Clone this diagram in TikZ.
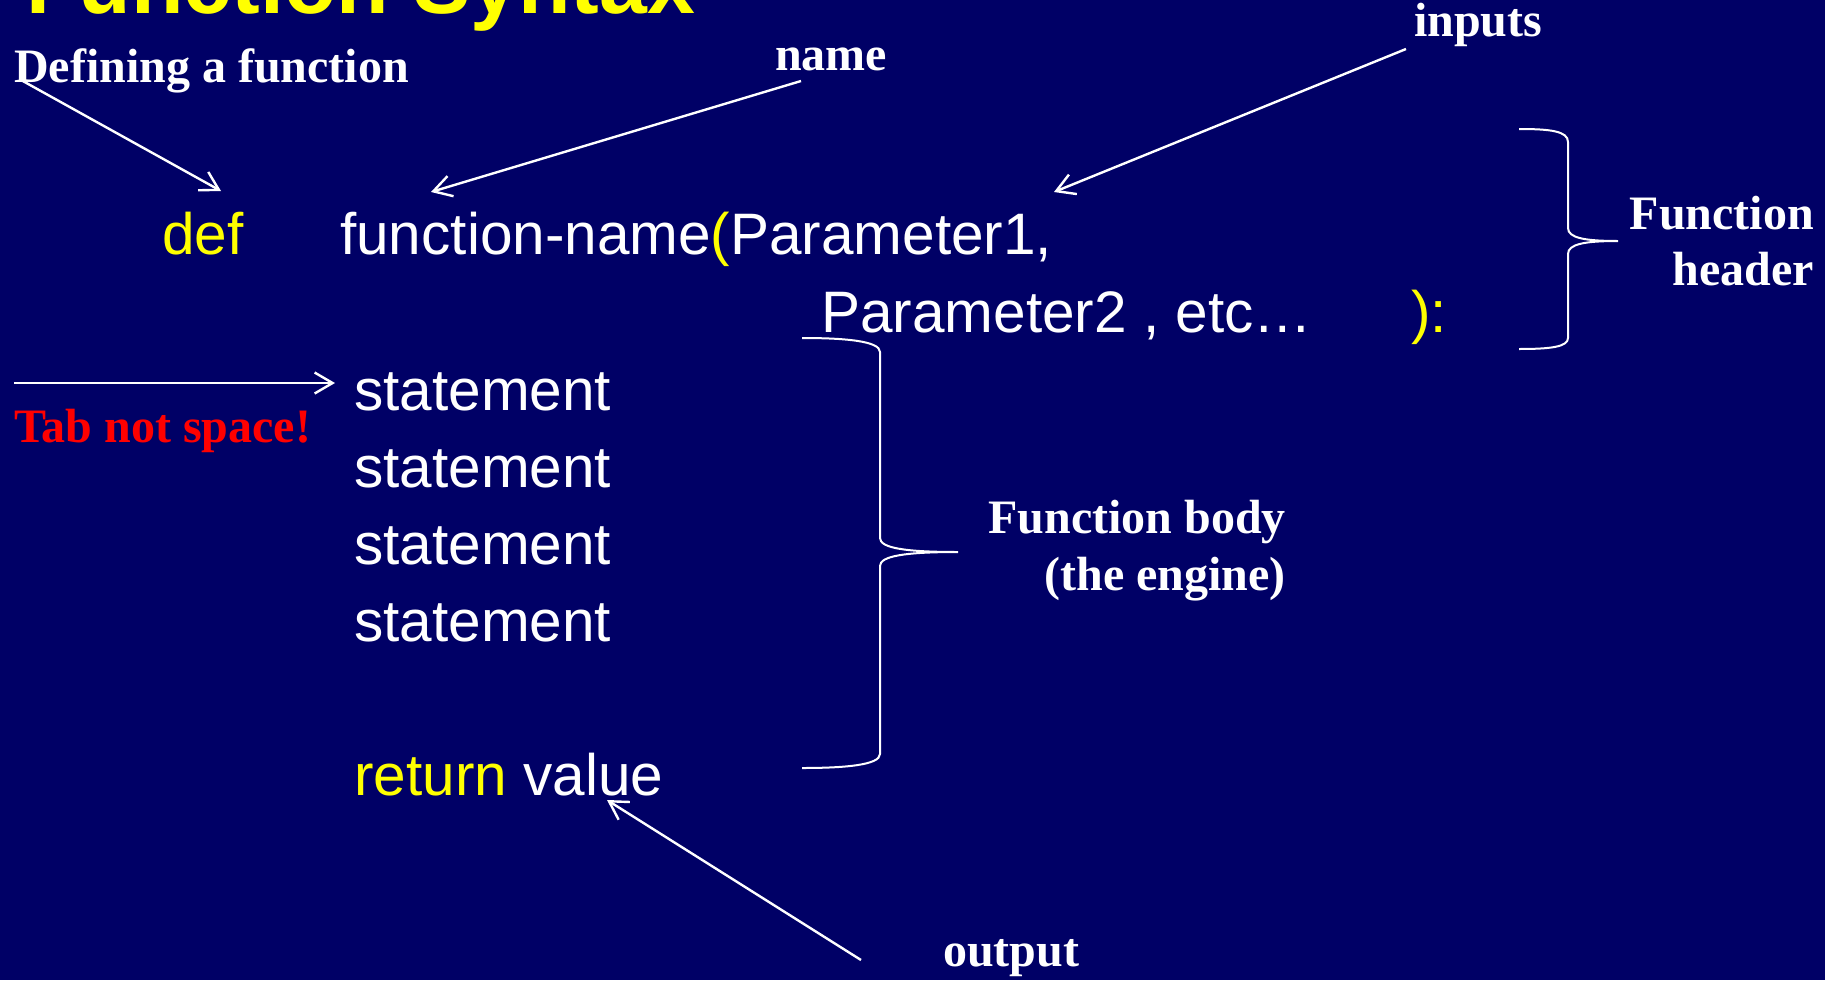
\documentclass[tikz,border=0pt]{standalone}
\usepackage{fontspec}
\setmainfont{Liberation Serif}
\setsansfont{Liberation Sans}
\usetikzlibrary{arrows.meta}
\definecolor{slidebg}{RGB}{0,0,102}
\definecolor{kwyellow}{RGB}{255,255,0}
\definecolor{warnred}{RGB}{255,0,0}

\begin{document}
\begin{tikzpicture}[x=1pt,y=-1pt,
  code/.style={font=\sffamily\fontsize{58.5}{70}\selectfont, text=white, inner sep=0pt, anchor=base west},
  kw/.style={code, text=kwyellow},
  note/.style={font=\bfseries\fontsize{48}{56}\selectfont, text=white, inner sep=0pt, anchor=base west},
  pointer/.style={draw=white, line width=2.4pt, -{Straight Barb[length=18pt,width=21pt]}},
  brace/.style={draw=white, line width=2pt}]
\useasboundingbox (0,0) rectangle (1825,980);
\fill[slidebg] (0,0) rectangle (1825,980);
\clip (0,0) rectangle (1825,980);

% slide title, running off the top edge
\node[anchor=base west, font=\sffamily\bfseries\fontsize{86}{100}\selectfont,
      text=kwyellow, inner sep=0pt] (title) at (26,13) {Function Syntax};

% function header
\node[kw]   (def)    at (162,254) {def};
\node[code] (fname)  at (340,254) {function-name\textcolor{kwyellow}{(}Parameter1,};
\node[code] (param2) at (821,332) {Parameter2 , etc\ldots};
\node[kw]   (close)  at (1411,332) {):};

% function body
\node[code] (st1) at (354,410) {statement};
\node[code] (st2) at (354,487) {statement};
\node[code] (st3) at (354,564) {statement};
\node[code] (st4) at (354,641) {statement};
\node[kw]   (ret) at (354,795) {return \textcolor{white}{value}};

% annotations
\node[note] (lbldef)  at (14,82)   {Defining a function};
\node[note] (lblname) at (775,70)  {name};
\node[note] (lblin)   at (1414,36) {inputs};
\node[note, anchor=base east] (lblhdrA) at (1814,229) {Function};
\node[note, anchor=base east] (lblhdrB) at (1814,285) {header};
\node[note, text=warnred] (lbltab) at (14,442) {Tab not space!};
\node[note, anchor=base east] (lblbodyA) at (1286,533) {Function body};
\node[note, anchor=base east] (lblbodyB) at (1286,590) {(the engine)};
\node[note] (lblout) at (943,966) {output};

% arrow end points
\coordinate (defTail)  at (21,80);
\coordinate (defHead)  at (221,191);
\coordinate (nameTail) at (801,81);
\coordinate (nameHead) at (431,192);
\coordinate (inTail)   at (1406,49);
\coordinate (inHead)   at (1054,192);
\coordinate (tabTail)  at (14,383);
\coordinate (tabHead)  at (335,383);
\coordinate (outTail)  at (861,960);
\coordinate (outHead)  at (607,800);

\draw[pointer] (defTail)  -- (defHead);
\draw[pointer] (nameTail) -- (nameHead);
\draw[pointer] (inTail)   -- (inHead);
\draw[pointer] (tabTail)  -- (tabHead);
\draw[pointer] (outTail)  -- (outHead);

% right brace around the header
\draw[brace] (1519,129) .. controls (1550,129) and (1568,131) .. (1568,142)
  -- (1568,228) .. controls (1568,238) and (1585,241) .. (1618,241)
  .. controls (1585,241) and (1568,244) .. (1568,254)
  -- (1568,338) .. controls (1568,347) and (1550,349) .. (1519,349);

% right brace around the body
\draw[brace] (802,338) .. controls (845,338) and (880,341) .. (880,352)
  -- (880,538) .. controls (880,548) and (905,552) .. (958,552)
  .. controls (905,552) and (880,556) .. (880,566)
  -- (880,754) .. controls (880,765) and (845,768) .. (802,768);
\end{tikzpicture}
\end{document}
